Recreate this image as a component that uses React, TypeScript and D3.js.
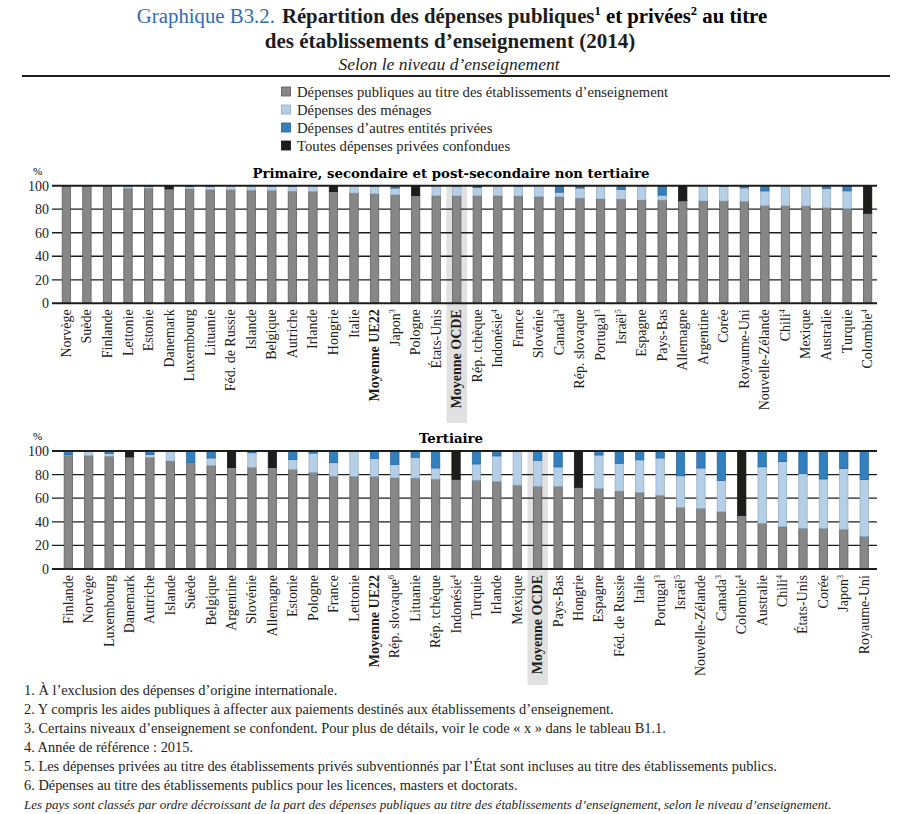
import * as d3 from "d3";

// ---------- Data ----------
// "^n" marks a footnote number on a country name
const topCountries = [
  "Norvège", "Suède", "Finlande", "Lettonie", "Estonie", "Danemark", "Luxembourg", "Lituanie",
  "Féd. de Russie", "Islande", "Belgique", "Autriche", "Irlande", "Hongrie", "Italie", "Moyenne UE22",
  "Japon^3", "Pologne", "États-Unis", "Moyenne OCDE", "Rép. tchèque", "Indonésie^4", "France", "Slovénie",
  "Canada^3", "Rép. slovaque", "Portugal^3", "Israël^5", "Espagne", "Pays-Bas", "Allemagne", "Argentine",
  "Corée", "Royaume-Uni", "Nouvelle-Zélande", "Chili^4", "Mexique", "Australie", "Turquie", "Colombie^4",
];
const topPublic = [
  100, 100, 100, 97.8, 97.8, 97.3, 97.2, 96.5, 96.4, 96.1, 95.8, 95.3, 95.1, 95.0, 93.7, 93.0,
  92.2, 91.6, 91.4, 91.3, 91.3, 91.3, 91.2, 90.6, 90.5, 89.4, 88.7, 88.6, 87.8, 87.7, 87.2, 87.0,
  86.9, 86.6, 82.9, 82.8, 82.7, 81.2, 80.5, 76.6,
];
const topMenages = [
  0, 0, 0, 1.8, 1.9, 0, 2.3, 3.1, 3.6, 3.9, 4.0, 4.3, 4.9, 0, 6.3, 6.2,
  5.8, 0, 8.6, 8.2, 7.3, 8.7, 8.4, 9.4, 4.0, 8.6, 11.3, 8.3, 12.0, 4.3, 0, 13.0,
  12.6, 11.6, 12.6, 17.0, 17.3, 16.6, 15.1, 0,
];
const topAutres = [
  0, 0, 0, 0.4, 0.3, 0, 0.5, 0.4, 0, 0, 0.2, 0.4, 0, 0, 0, 0.8,
  2.0, 0, 0, 0.5, 1.4, 0, 0.4, 0, 5.5, 2.0, 0, 3.1, 0.2, 8.0, 0, 0,
  0.5, 1.8, 4.5, 0.2, 0, 2.2, 4.4, 0,
];
const topConfondues = [
  0, 0, 0, 0, 0, 2.7, 0, 0, 0, 0, 0, 0, 0, 5.0, 0, 0,
  0, 8.4, 0, 0, 0, 0, 0, 0, 0, 0, 0, 0, 0, 0, 12.8, 0,
  0, 0, 0, 0, 0, 0, 0, 23.4,
];

const botCountries = [
  "Finlande", "Norvège", "Luxembourg", "Danemark", "Autriche", "Islande", "Suède", "Belgique",
  "Argentine", "Slovénie", "Allemagne", "Estonie", "Pologne", "France", "Lettonie", "Moyenne UE22",
  "Rép. slovaque^6", "Lituanie", "Rép. tchèque", "Indonésie^4", "Turquie", "Irlande", "Mexique", "Moyenne OCDE",
  "Pays-Bas", "Hongrie", "Espagne", "Féd. de Russie", "Italie", "Portugal^3", "Israël^5", "Nouvelle-Zélande",
  "Canada^3", "Colombie^4", "Australie", "Chili^4", "États-Unis", "Corée", "Japon^3", "Royaume-Uni",
];
const botPublic = [
  96.5, 96.0, 95.5, 95.0, 94.6, 91.5, 89.0, 87.6, 86.0, 86.0, 85.9, 84.2, 81.7, 78.6, 78.4, 78.3,
  77.2, 77.0, 76.1, 76.0, 75.2, 74.0, 71.0, 70.0, 69.9, 69.3, 68.2, 66.0, 64.8, 62.3, 52.1, 51.3,
  48.5, 45.4, 38.6, 35.8, 34.4, 34.3, 33.5, 27.6,
];
const botMenages = [
  0.5, 3.5, 2.5, 0, 2.4, 8.5, 0.8, 6.5, 0, 12.5, 0, 8.5, 16.5, 11.5, 21.6, 15.3,
  11.3, 17.7, 9.5, 0, 13.8, 21.8, 29.0, 22.0, 16.6, 0, 28.4, 23.5, 27.7, 31.8, 26.9, 34.3,
  26.5, 0, 48.0, 55.2, 46.4, 42.0, 51.8, 48.2,
];
const botAutres = [
  3.0, 0.5, 2.0, 0, 3.0, 0, 10.2, 5.9, 0, 1.5, 0, 7.3, 1.8, 9.9, 0, 6.4,
  11.5, 5.3, 14.4, 0, 11.0, 4.2, 0, 8.0, 13.5, 0, 3.4, 10.5, 7.5, 5.9, 21.0, 14.4,
  25.0, 0, 13.4, 9.0, 19.2, 23.7, 14.7, 24.2,
];
const botConfondues = [
  0, 0, 0, 5.0, 0, 0, 0, 0, 14.0, 0, 14.1, 0, 0, 0, 0, 0,
  0, 0, 0, 24.0, 0, 0, 0, 0, 0, 30.7, 0, 0, 0, 0, 0, 0,
  0, 54.6, 0, 0, 0, 0, 0, 0,
];

const yTicks = [0, 20, 40, 60, 80, 100];
const SERIES = ["public", "menages", "autres", "confondues"] as const;
const LEGEND = [
  "Dépenses publiques au titre des établissements d’enseignement",
  "Dépenses des ménages",
  "Dépenses d’autres entités privées",
  "Toutes dépenses privées confondues",
];
const FOOTNOTES = [
  "1. À l’exclusion des dépenses d’origine internationale.",
  "2. Y compris les aides publiques à affecter aux paiements destinés aux établissements d’enseignement.",
  "3. Certains niveaux d’enseignement se confondent. Pour plus de détails, voir le code « x » dans le tableau B1.1.",
  "4. Année de référence : 2015.",
  "5. Les dépenses privées au titre des établissements privés subventionnés par l’État sont incluses au titre des établissements publics.",
  "6. Dépenses au titre des établissements publics pour les licences, masters et doctorats.",
];
const SOURCE_NOTE =
  "Les pays sont classés par ordre décroissant de la part des dépenses publiques au titre des établissements d’enseignement, selon le niveau d’enseignement.";

const COLORS = ["#878787", "#b4cfe6", "#3380bf", "#1d1d1b"];
const STROKES = ["#555555", "#8ea9c2", "#23609a", "#111111"];
const FONT = "'Liberation Serif', 'Times New Roman', serif";
const PANEL_FONT = "'DejaVu Serif', serif";

type Panel = {
  title: string;
  countries: string[];
  values: number[][];
  top: number; // y of 100
  bottom: number; // y of 0
  x0: number;
  x1: number;
  bandBottom: number; // bottom of the OECD highlight band
};

const panels: Panel[] = [
  {
    title: "Primaire, secondaire et post-secondaire non tertiaire",
    countries: topCountries,
    values: [topPublic, topMenages, topAutres, topConfondues],
    top: 185.7,
    bottom: 303.3,
    x0: 56,
    x1: 878,
    bandBottom: 423,
  },
  {
    title: "Tertiaire",
    countries: botCountries,
    values: [botPublic, botMenages, botAutres, botConfondues],
    top: 451,
    bottom: 569,
    x0: 58,
    x1: 874.5,
    bandBottom: 685,
  },
];

function Label({ name, x, y }: { name: string; x: number; y: number }) {
  const [base, note] = name.split("^");
  const bold = base.startsWith("Moyenne");
  return (
    <text
      transform={`translate(${x},${y}) rotate(-90)`}
      textAnchor="end"
      fontSize={14}
      fontWeight={bold ? "bold" : "normal"}
      fill="#1d1d1b"
    >
      {base}
      {note && (
        <tspan fontSize={8} dy={-5}>
          {note}
        </tspan>
      )}
    </text>
  );
}

function ChartPanel({ p }: { p: Panel }) {
  const x = d3.scaleBand<string>().domain(p.countries).range([p.x0, p.x1]).paddingInner(0.59).paddingOuter(0.3);
  const y = d3.scaleLinear().domain([0, 100]).range([p.bottom, p.top]);
  const step = x.step();
  const rows = p.countries.map((c, i) => ({ c, vals: p.values.map((s) => s[i]) }));
  const stacked = d3
    .stack<{ c: string; vals: number[] }, number>()
    .keys([0, 1, 2, 3])
    .value((d, k) => d.vals[k])(rows);
  const ocde = "Moyenne OCDE";
  const bandX = (x(ocde) as number) + x.bandwidth() / 2 - step / 2;
  const axisL = 52;
  const axisR = 877;

  return (
    <g>
      <rect x={bandX} y={p.top + 1} width={step} height={p.bandBottom - p.top - 1} fill="#e1e1e1" />
      <text x={451} y={p.top - 8} textAnchor="middle" fontFamily={PANEL_FONT} fontWeight="bold" fontSize={13.3}>
        {p.title}
      </text>
      <text x={33} y={p.top - 11} fontSize={11}>
        %
      </text>
      {yTicks
        .filter((t) => t !== 0 && t !== 100)
        .map((t) => (
          <line key={t} x1={axisL} x2={axisR} y1={y(t)} y2={y(t)} stroke="#1d1d1b" strokeWidth={1.3} />
        ))}
      {stacked.map((layer, k) => (
        <g key={SERIES[k]}>
          {layer.map((d) =>
            d[1] - d[0] > 0 ? (
              <rect
                key={d.data.c}
                x={x(d.data.c)}
                width={x.bandwidth()}
                y={y(d[1])}
                height={y(d[0]) - y(d[1])}
                fill={COLORS[k]}
                stroke={STROKES[k]}
                strokeWidth={0.7}
              />
            ) : null
          )}
        </g>
      ))}
      {[0, 100].map((t) => (
        <line key={t} x1={axisL} x2={axisR} y1={y(t)} y2={y(t)} stroke="#1d1d1b" strokeWidth={2} />
      ))}
      {yTicks.map((t) => (
        <text key={t} x={49} y={y(t) + 5} textAnchor="end" fontSize={14} fill="#1d1d1b">
          {t}
        </text>
      ))}
      {p.countries.map((c) => (
        <Label key={c} name={c} x={(x(c) as number) + x.bandwidth() / 2 + 4.5} y={p.bottom + 6} />
      ))}
    </g>
  );
}

export default function App() {
  return (
    <svg
      width={898}
      height={814}
      style={{ position: "absolute", left: 0, top: 0, background: "#fff" }}
      fontFamily={FONT}
    >
      <text x={452} y={23} textAnchor="middle" fontSize={20.8}>
        <tspan fill="#2e6db4">Graphique B3.2.</tspan>
        <tspan fontWeight="bold" fill="#1d1d1b" dx={7}>
          Répartition des dépenses publiques
        </tspan>
        <tspan fontWeight="bold" fontSize={12.5} dy={-8}>
          1
        </tspan>
        <tspan fontWeight="bold" dy={8}>
          {" "}et privées
        </tspan>
        <tspan fontWeight="bold" fontSize={12.5} dy={-8}>
          2
        </tspan>
        <tspan fontWeight="bold" dy={8}>
          {" "}au titre
        </tspan>
      </text>
      <text x={450} y={48} textAnchor="middle" fontSize={21} fontWeight="bold" fill="#1d1d1b">
        des établissements d’enseignement (2014)
      </text>
      <text x={449} y={70} textAnchor="middle" fontSize={17.5} fontStyle="italic" fill="#1d1d1b">
        Selon le niveau d’enseignement
      </text>
      <line x1={22} x2={890} y1={76} y2={76} stroke="#1d1d1b" strokeWidth={2} />

      {LEGEND.map((t, i) => (
        <g key={t} transform={`translate(281,${92 + i * 18})`}>
          <rect x={0.5} y={-5} width={9} height={9} fill={COLORS[i]} stroke={STROKES[i]} strokeWidth={0.8} />
          <text x={16} y={4.5} fontSize={14.7} fill="#1d1d1b">
            {t}
          </text>
        </g>
      ))}

      {panels.map((p) => (
        <ChartPanel key={p.title} p={p} />
      ))}

      {FOOTNOTES.map((t, i) => (
        <text key={t} x={24} y={695 + i * 19} fontSize={14.4} fill="#1d1d1b">
          {t}
        </text>
      ))}
      <text x={24} y={695 + 6 * 19} fontSize={13.1} fontStyle="italic" fill="#1d1d1b">
        {SOURCE_NOTE}
      </text>
    </svg>
  );
}
